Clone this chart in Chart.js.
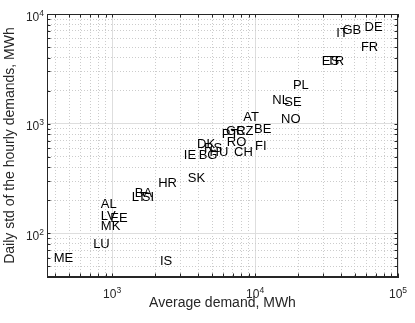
<!DOCTYPE html>
<html>
<head>
<meta charset="utf-8">
<script src="https://cdn.jsdelivr.net/npm/chart.js@4.4.1/dist/chart.umd.min.js"></script>
<style>
  html, body { margin: 0; padding: 0; background: #fff; }
</style>
</head>
<body>
<canvas id="chart" width="415" height="323"></canvas>
<script>
// Country codes, average demand (MWh) and daily std of hourly demand (MWh)
const countries = ['DE', 'GB', 'IT', 'FR', 'ES', 'TR', 'PL', 'NL', 'SE', 'NO',
    'AT', 'BE', 'CZ', 'GR', 'PT', 'RO', 'FI', 'CH', 'HU', 'RS',
    'DK', 'BG', 'IE', 'SK', 'HR', 'BA', 'LT', 'SI', 'AL', 'LV',
    'EE', 'MK', 'LU', 'ME', 'IS'];
const avgDemand = [58300, 40900, 37000, 55000, 29300, 31800, 18400, 13200, 16000, 15200,
    8280, 9840, 7360, 6270, 5850, 6340, 10000, 7130, 4800, 4400,
    3930, 4030, 3170, 3380, 2100, 1440, 1370, 1610, 833, 833,
    971, 833, 736, 390, 2160];
const dailyStd = [7560, 7140, 6670, 4920, 3660, 3660, 2230, 1640, 1560, 1100,
    1150, 889, 853, 853, 800, 681, 621, 545, 551, 596,
    641, 514, 514, 319, 287, 233, 214, 214, 185, 143,
    138, 115, 80, 58.5, 55.2];
const xTickLabels = [1e3, 1e4, 1e5];
const yTickLabels = [1e2, 1e3, 1e4];

const FONT = '"Liberation Sans", Arial, Helvetica, sans-serif';
const AXIS_COLOR = '#262626';

/** log gridline positions (1..9 x 10^n) between min and max */
function logGrid(min, max) {
    const out = [];
    for (let p = Math.floor(Math.log10(min)); p <= Math.ceil(Math.log10(max)); p++) {
        for (let m = 1; m < 10; m++) {
            const v = m * Math.pow(10, p);
            if (v >= min - 1e-9 && v <= max + 1e-9) out.push(v);
        }
    }
    return out;
}

function isMajor(v) {
    if (v === undefined) return true;
    const l = Math.log10(v);
    return Math.abs(l - Math.round(l)) < 1e-9;
}

/** "10" with a raised exponent */
function drawPow(ctx, px, py, v, align) {
    const base = '10';
    const exp = String(Math.round(Math.log10(v)));
    ctx.font = '12px ' + FONT;
    const wb = ctx.measureText(base).width;
    ctx.font = '8.5px ' + FONT;
    const we = ctx.measureText(exp).width;
    const x0 = align === 'center' ? px - (wb + we) / 2 : px - (wb + we);
    ctx.textAlign = 'left';
    ctx.textBaseline = 'alphabetic';
    ctx.font = '12px ' + FONT;
    ctx.fillText(base, x0, py);
    ctx.font = '8.5px ' + FONT;
    ctx.fillText(exp, x0 + wb, py - 5);
}

// Country codes drawn in place of markers (left / middle anchored)
const textLabels = {
    id: 'textLabels',
    afterDatasetsDraw(chart) {
        const ctx = chart.ctx;
        const meta = chart.getDatasetMeta(0);
        ctx.save();
        ctx.font = '13px ' + FONT;
        ctx.fillStyle = '#000';
        ctx.textAlign = 'left';
        ctx.textBaseline = 'middle';
        meta.data.forEach((pt, i) => ctx.fillText(countries[i], pt.x, pt.y));
        ctx.restore();
    }
};

// Box, inner ticks on all sides, power-of-ten tick labels
const axisBox = {
    id: 'axisBox',
    afterDraw(chart) {
        const { ctx, chartArea: a, scales: { x, y } } = chart;
        const tl = 3.5;
        ctx.save();
        ctx.strokeStyle = AXIS_COLOR;
        ctx.lineWidth = 1;
        ctx.beginPath();
        x.ticks.forEach(t => {
            const px = Math.round(x.getPixelForValue(t.value)) + 0.5;
            ctx.moveTo(px, a.bottom); ctx.lineTo(px, a.bottom - tl);
            ctx.moveTo(px, a.top); ctx.lineTo(px, a.top + tl);
        });
        y.ticks.forEach(t => {
            const py = Math.round(y.getPixelForValue(t.value)) + 0.5;
            ctx.moveTo(a.left, py); ctx.lineTo(a.left + tl, py);
            ctx.moveTo(a.right, py); ctx.lineTo(a.right - tl, py);
        });
        ctx.stroke();
        ctx.strokeRect(Math.round(a.left) + 0.5, Math.round(a.top) + 0.5,
            Math.round(a.right - a.left) - 1, Math.round(a.bottom - a.top) - 1);

        ctx.fillStyle = AXIS_COLOR;
        xTickLabels.forEach(v => drawPow(ctx, x.getPixelForValue(v), a.bottom + 20.5, v, 'center'));
        yTickLabels.forEach(v => drawPow(ctx, a.left - 3, y.getPixelForValue(v) + 6.5, v, 'right'));
        ctx.restore();
    }
};

const gridOpts = {
    color: c => isMajor(c.tick && c.tick.value) ? '#dedede' : '#cccccc',
    lineWidth: 1,
    drawTicks: false,
};
const borderOpts = {
    display: true,
    color: AXIS_COLOR,
    width: 1,
    dash: c => (c.tick && !isMajor(c.tick.value)) ? [1, 2] : [],
};

new Chart(document.getElementById('chart'), {
    type: 'scatter',
    data: {
        datasets: [{
            data: avgDemand.map((v, i) => ({ x: v, y: dailyStd[i] })),
            pointRadius: 0,
            pointHoverRadius: 0,
        }]
    },
    options: {
        responsive: false,
        animation: false,
        layout: { padding: { top: 14, right: 17, left: 0, bottom: 0 } },
        plugins: { legend: { display: false }, tooltip: { enabled: false } },
        scales: {
            x: {
                type: 'logarithmic',
                min: 350,
                max: 100000,
                afterBuildTicks: s => { s.ticks = logGrid(350, 100000).map(v => ({ value: v })); },
                afterFit: s => { s.height = 46; },
                ticks: { display: false },
                grid: gridOpts,
                border: borderOpts,
                title: {
                    display: true,
                    text: 'Average demand, MWh',
                    color: AXIS_COLOR,
                    font: { family: FONT, size: 14 },
                    padding: { top: 0, bottom: 11 },
                },
            },
            y: {
                type: 'logarithmic',
                min: 40,
                max: 10000,
                afterBuildTicks: s => { s.ticks = logGrid(40, 10000).map(v => ({ value: v })); },
                afterFit: s => { s.width = 47; },
                ticks: { display: false },
                grid: gridOpts,
                border: borderOpts,
                title: {
                    display: true,
                    text: 'Daily std of the hourly demands, MWh',
                    color: AXIS_COLOR,
                    font: { family: FONT, size: 14 },
                    padding: { top: 2, bottom: 0 },
                },
            },
        },
    },
    plugins: [textLabels, axisBox],
});
</script>
</body>
</html>
